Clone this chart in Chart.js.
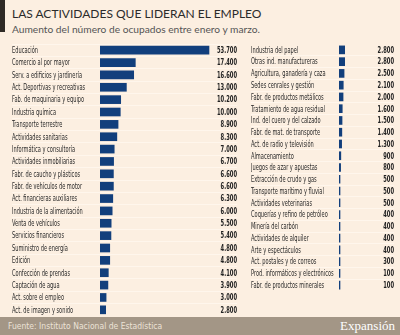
<!DOCTYPE html>
<html>
<head>
<meta charset="utf-8">
<script src="https://cdn.jsdelivr.net/npm/chart.js@4.4.1/dist/chart.umd.min.js"></script>
<style>
  body { margin: 0; }
  #page { position: relative; width: 400px; height: 335px; background: #fcefe1; overflow: hidden; font-family: Lato, sans-serif; }
  #mark { position: absolute; left: 0; top: 0; width: 5px; height: 32px; background: #2f2a25; }
  #title { position: absolute; left: 12px; top: 6px; font-size: 12px; color: #2b2b2b; white-space: nowrap; }
  #sub { position: absolute; left: 12px; top: 23px; font-size: 10.2px; color: #555; white-space: nowrap; }
  #foot { position: absolute; left: 0; top: 317px; width: 400px; height: 18px; background: #a39686; }
  #src { position: absolute; left: 8px; top: 4px; font-size: 8.5px; color: #ece2d6; font-family: "Liberation Sans Narrow", "DejaVu Sans Condensed", sans-serif; }
  #brand { position: absolute; right: 5px; top: 1px; font-size: 13px; color: #fff; font-family: "Liberation Serif", serif; }
  canvas { position: absolute; }
</style>
</head>
<body>
<div id="page">
  <div id="mark"></div>
  <div id="title">LAS ACTIVIDADES QUE LIDERAN EL EMPLEO</div>
  <div id="sub">Aumento del número de ocupados entre enero y marzo.</div>
  <div style="position:absolute;left:12px;top:44px;width:228px;height:272px"><canvas id="leftChart"></canvas></div>
  <div style="position:absolute;left:251px;top:44px;width:146px;height:247px"><canvas id="rightChart"></canvas></div>
  <div id="foot">
    <div id="src">Fuente: Instituto Nacional de Estadística</div>
    <div id="brand">Expansión</div>
  </div>
</div>
<script>
const leftLabels = ["Educación", "Comercio al por mayor", "Serv. a edificios y jardinería", "Act. Deportivas y recreativas",
  "Fab. de maquinaria y equipo", "Industria química", "Transporte terrestre", "Actividades sanitarias",
  "Informática y consultoría", "Actividades inmobiliarias", "Fabr. de caucho y plásticos", "Fabr. de vehículos de motor",
  "Act. financieras auxiliares", "Industria de la alimentación", "Venta de vehículos", "Servicios financieros",
  "Suministro de energía", "Edición", "Confección de prendas", "Captación de agua", "Act. sobre el empleo",
  "Act. de imagen y sonido"];
const leftValues = [53700, 17400, 16600, 13000, 10200, 10000, 8900, 8300, 7000, 6700, 6600, 6600,
  6300, 6000, 5500, 5400, 4800, 4800, 4100, 3900, 3000, 2800];

const rightLabels = ["Industria del papel", "Otras ind. manufactureras", "Agricultura, ganadería y caza", "Sedes cenrales y gestión",
  "Fabr. de productos metálicos", "Tratamiento de agua residual", "Ind. del cuero y del calzado", "Fabr. de mat. de transporte",
  "Act. de radio y televisión", "Almacenamiento", "Juegos de azar y apuestas", "Extracción de crudo y gas",
  "Transporte marítimo y fluvial", "Actividades veterinarias", "Coquerías y refino de petróleo", "Minería del carbón",
  "Actividades de alquiler", "Arte y espectáculos", "Act. postales y de correos", "Prod. informáticos y electrónicos",
  "Fabr. de productos minerales"];
const rightValues = [2800, 2800, 2500, 2100, 2000, 1600, 1500, 1400, 1300, 900, 800, 500,
  500, 500, 400, 400, 400, 400, 300, 100, 100];

const barColor = '#123f7c';
const narrow = '"Liberation Sans Narrow", "DejaVu Sans Condensed", sans-serif';
const labelFont = '9px ' + narrow;
const valueFont = 'bold 9px ' + narrow;

const fmt = v => String(v).replace(/\B(?=(\d{3})+(?!\d))/g, '.');

// the original uses a very condensed face, so squeeze the text horizontally
const squeeze = (ctx, font, sample, target) => {
  ctx.save();
  ctx.font = font;
  const w = ctx.measureText(sample).width;
  ctx.restore();
  return Math.min(1, target / w);
};

// category names and numbers drawn per row
const rowText = {
  id: 'rowText',
  afterDatasetsDraw(chart) {
    const ctx = chart.ctx;
    const yScale = chart.scales.y;
    const meta = chart.getDatasetMeta(0);
    const kLabel = squeeze(ctx, labelFont, 'Serv. a edificios y jardinería', 70);
    const kValue = squeeze(ctx, valueFont, '53.700', 20);

    ctx.save();
    ctx.textBaseline = 'middle';
    ctx.font = labelFont;
    ctx.fillStyle = '#2a2a2a';
    ctx.textAlign = 'left';
    chart.data.labels.forEach((lab, i) => {
      const y = yScale.getPixelForTick(i) + 0.5;
      ctx.save();
      ctx.translate(yScale.left, y);
      ctx.scale(kLabel, 1);
      ctx.fillText(lab, 0, 0);
      ctx.restore();
    });

    ctx.font = valueFont;
    ctx.fillStyle = '#222';
    ctx.textAlign = 'right';
    meta.data.forEach((bar, i) => {
      ctx.save();
      ctx.translate(chart.chartArea.right, bar.y + 0.5);
      ctx.scale(kValue, 1);
      ctx.fillText(fmt(chart.data.datasets[0].data[i]), 0, 0);
      ctx.restore();
    });
    ctx.restore();
  }
};

const makeChart = (id, labels, values, max) => {
  return new Chart(document.getElementById(id), {
    type: 'bar',
    data: {
      labels: labels,
      datasets: [{
        data: values,
        backgroundColor: barColor,
        barThickness: 8,
        minBarLength: 1
      }]
    },
    options: {
      indexAxis: 'y',
      responsive: true,
      maintainAspectRatio: false,
      animation: false,
      layout: { padding: { left: 0, right: 3, top: 0, bottom: 0 } },
      plugins: { legend: { display: false }, tooltip: { enabled: false } },
      scales: {
        x: { display: false, min: 0, max: max },
        y: {
          afterFit: scale => { scale.width = 88; },
          border: { display: false },
          grid: { color: '#fff6ec', lineWidth: 1, tickLength: 88, offset: true },
          ticks: { display: false, autoSkip: false }
        }
      }
    },
    plugins: [rowText]
  });
};

makeChart('leftChart', leftLabels, leftValues, 67500);
makeChart('rightChart', rightLabels, rightValues, 27100);
</script>
</body>
</html>
